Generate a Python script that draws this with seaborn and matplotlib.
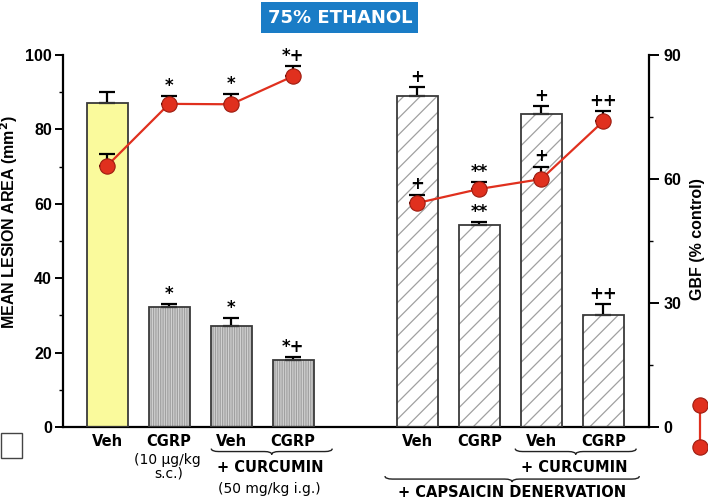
import numpy as np
import pandas as pd
import seaborn as sns
import matplotlib.pyplot as plt
from matplotlib.patches import Rectangle
from matplotlib.path import Path
from matplotlib.patches import PathPatch
from matplotlib.lines import Line2D
import matplotlib.transforms as mtransforms

# data
conditions = ['Veh', 'CGRP', 'Cur+Veh', 'Cur+CGRP', 'Cap+Veh', 'Cap+CGRP', 'Cap+Cur+Veh', 'Cap+Cur+CGRP']
tick_names = ['Veh', 'CGRP', 'Veh', 'CGRP', 'Veh', 'CGRP', 'Veh', 'CGRP']
lesion = [87.1, 32.3, 27.1, 18.0, 89.0, 54.3, 84.1, 30.1]
lesion_sem = [2.9, 0.8, 2.2, 0.8, 2.4, 0.7, 2.2, 2.9]
gbf = [63.2, 78.2, 78.1, 84.9, 54.2, 57.6, 60.0, 74.0]
gbf_sem = [2.8, 1.8, 2.4, 2.4, 2.0, 1.7, 3.0, 2.5]
lesion_marks = ['', '*', '*', '*+', '+', '**', '+', '++']
gbf_marks = ['', '*', '*', '*+', '+', '**', '+', '++']

# empty slot between the two groups
order = conditions[:4] + [' '] + conditions[4:]
xpos = [order.index(c) for c in conditions]

df = pd.DataFrame({'cond': conditions, 'lesion': lesion, 'gbf': gbf})

sns.set_style('ticks', {'axes.edgecolor': 'black', 'text.color': 'black',
                        'xtick.color': 'black', 'ytick.color': 'black',
                        'axes.labelcolor': 'black'})
plt.rcParams['font.family'] = ['DejaVu Sans']
plt.rcParams['hatch.linewidth'] = 0.9

fig = plt.figure(figsize=(7.08, 5.01), dpi=100)
ax = fig.add_axes([0.089, 0.1477, 0.828, 0.7423])

sns.barplot(data=df, x='cond', y='lesion', order=order, width=0.66,
            errorbar=None, color='white', ax=ax, zorder=2)

styles = (['#fafa9c'] + ['#d2d2d2'] * 3 + ['white'] * 4)
hatches = [''] + ['|||||||'] * 3 + ['//'] * 4
bars = [p for p in ax.patches if p.get_height() > 0]
for p, fc, h in zip(bars, styles, hatches):
    p.set_facecolor(fc)
    p.set_hatch(h)
    p.set_edgecolor('#a0a0a0')
    p.set_linewidth(0)
    ax.add_patch(Rectangle(p.get_xy(), p.get_width(), p.get_height(),
                           fill=False, edgecolor='#3a3a3a', lw=1.3, zorder=3))

ax.errorbar(xpos, lesion, yerr=[np.zeros(len(lesion)), lesion_sem], fmt='none',
            ecolor='black', elinewidth=1.6, capsize=5.5, capthick=1.6, zorder=2.5)
mark_kw = dict(textcoords='offset points', ha='center', va='bottom',
               fontsize=12, fontweight='bold', family='DejaVu Sans')
for x, y, e, m in zip(xpos, lesion, lesion_sem, lesion_marks):
    ax.annotate(m, (x, y + e), xytext=(0, 1), **mark_kw)

ax.set_xlim(-0.71, 8.74)
ax.set_ylim(0, 100)
ax.set_yticks(range(0, 101, 20))
ax.set_yticks(range(10, 100, 20), minor=True)
ax.set_xticks([])
ax.set_xlabel('')
ax.set_ylabel('MEAN LESION AREA (mm$\\mathbf{^2}$)', fontsize=11.5, fontweight='bold',
              family='Liberation Sans')
ax.yaxis.set_label_coords(-0.073, 0.55)
ax.tick_params(axis='y', which='major', length=6, width=1.4, pad=2, labelsize=11.5)
ax.tick_params(axis='y', which='minor', length=3, width=1.0)
for lab in ax.get_yticklabels():
    lab.set_fontweight('bold')
    lab.set_family('Liberation Sans')
for s in ['left', 'bottom']:
    ax.spines[s].set_linewidth(1.6)
ax.spines['top'].set_visible(False)
ax.spines['right'].set_visible(False)

# GBF on the right axis
ax2 = ax.twinx()
red = '#e0301e'
for sl in [slice(0, 4), slice(4, 8)]:
    sns.lineplot(x=xpos[sl], y=gbf[sl], ax=ax2, color=red, lw=1.6, marker='o',
                 markersize=11, markerfacecolor=red, markeredgecolor='#9c1c10',
                 markeredgewidth=0.8, zorder=5)
ax2.errorbar(xpos, gbf, yerr=[np.zeros(len(gbf)), gbf_sem], fmt='none',
             ecolor='black', elinewidth=1.6, capsize=5.5, capthick=1.6, zorder=4)
for x, y, e, m in zip(xpos, gbf, gbf_sem, gbf_marks):
    ax2.annotate(m, (x, y + e), xytext=(0, 1), **mark_kw)
ax2.set_ylim(0, 90)
ax2.set_yticks([0, 30, 60, 90])
ax2.set_yticks([15, 45, 75], minor=True)
ax2.set_ylabel('GBF (% control)', fontsize=11.5, fontweight='bold',
               family='Liberation Sans')
ax2.yaxis.set_label_coords(1.070, 0.505)
ax2.tick_params(axis='y', which='major', length=7, width=1.4, pad=3, labelsize=11.5)
ax2.tick_params(axis='y', which='minor', length=3, width=1.0)
for lab in ax2.get_yticklabels():
    lab.set_fontweight('bold')
    lab.set_family('Liberation Sans')
ax2.spines['right'].set_linewidth(1.6)
for s in ['top', 'left', 'bottom']:
    ax2.spines[s].set_visible(False)

# category labels under the axis
trans = mtransforms.blended_transform_factory(ax.transData, ax.transAxes)
lab_kw = dict(transform=trans, ha='center', va='center', clip_on=False)
big = dict(fontsize=10.5, fontweight='bold')
small = dict(fontsize=10)
for x, name in zip(xpos, tick_names):
    ax.text(x, -0.040, name, **big, **lab_kw)
ax.text(0.97, -0.088, '(10 \u00b5g/kg', **small, **lab_kw)
ax.text(1.0, -0.126, 's.c.)', **small, **lab_kw)
ax.text(2.63, -0.110, '+ CURCUMIN', **big, **lab_kw)
ax.text(2.62, -0.167, '(50 mg/kg i.g.)', **small, **lab_kw)
ax.text(7.53, -0.110, '+ CURCUMIN', **big, **lab_kw)
ax.text(6.53, -0.177, '+ CAPSAICIN DENERVATION', **big, **lab_kw)


def brace(x0, x1, y, h=0.008, d=0.12):
    xm = (x0 + x1) / 2
    verts = [(x0, y + h), (x0, y), (x0 + d, y),
             (xm - d, y), (xm, y), (xm, y - h),
             (xm, y), (xm + d, y),
             (x1 - d, y), (x1, y), (x1, y + h)]
    codes = [Path.MOVETO, Path.CURVE3, Path.CURVE3,
             Path.LINETO, Path.CURVE3, Path.CURVE3,
             Path.CURVE3, Path.CURVE3,
             Path.LINETO, Path.CURVE3, Path.CURVE3]
    ax.add_patch(PathPatch(Path(verts, codes), transform=trans, fill=False,
                           lw=1.0, edgecolor='#222222', clip_on=False))


brace(1.68, 3.63, -0.066)
brace(6.58, 8.53, -0.066)
brace(4.48, 8.58, -0.140)

# title box
fig.text(0.48, 0.965, '75% ETHANOL', ha='center', va='center', color='white',
         fontsize=13, fontweight='bold',
         bbox=dict(boxstyle='square,pad=0.35', facecolor='#1a7cc6', edgecolor='none'))

# legend symbols
fig.patches.append(Rectangle((0.002, 0.086), 0.029, 0.049, transform=fig.transFigure,
                             facecolor='white', edgecolor='#444444', lw=1.0))
fig.lines.append(Line2D([0.989, 0.989], [0.192, 0.108], transform=fig.transFigure,
                        color=red, lw=1.6, marker='o', markersize=11,
                        markerfacecolor=red, markeredgecolor='#9c1c10', markeredgewidth=0.8))

fig.savefig('out.png', dpi=100)
